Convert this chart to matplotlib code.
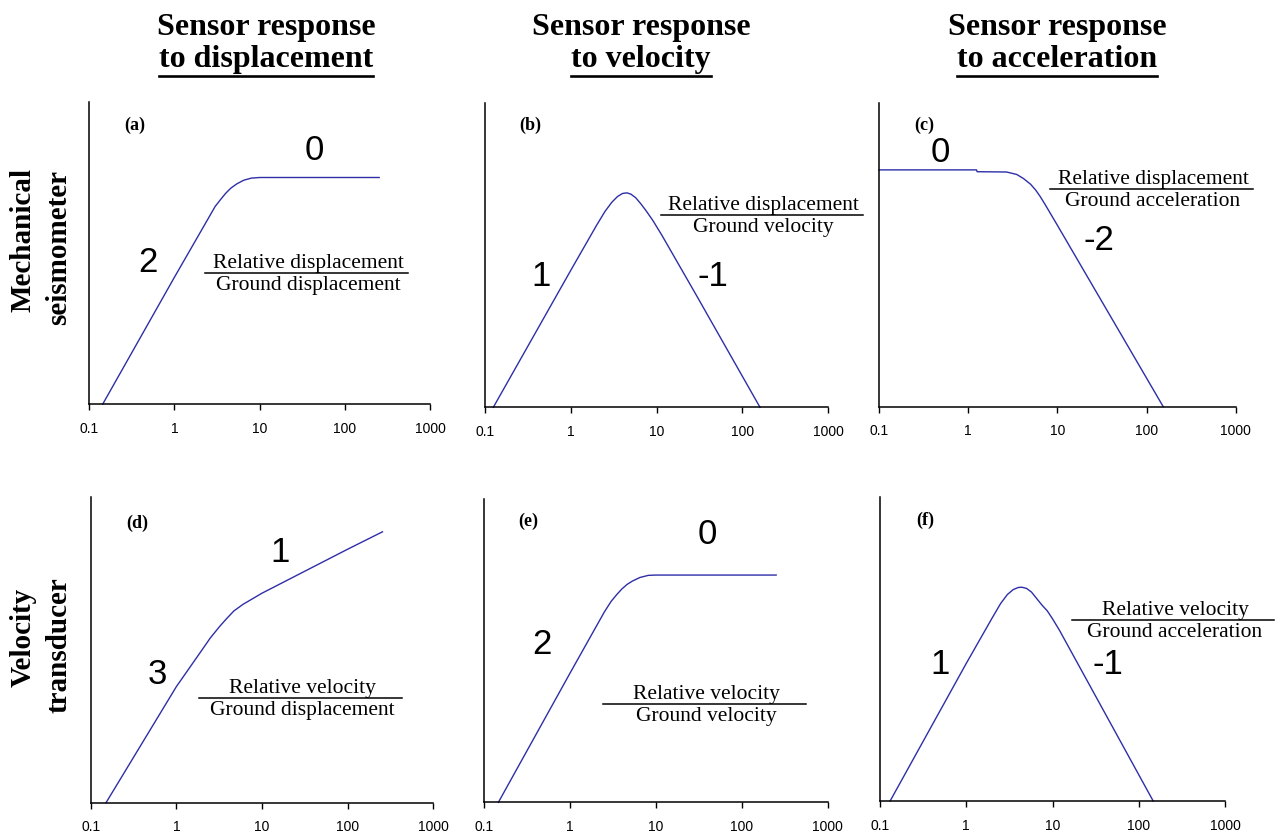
import matplotlib.pyplot as plt
from matplotlib.lines import Line2D

# frequency (Hz) and relative response level (0-100, arbitrary) for each panel
a_freq = [0.144, 1, 2.5, 3.0, 3.5, 4.0, 4.6, 5.4, 6.5, 8, 10, 253]
a_level = [0, 42, 61.5, 65.4, 67.8, 69.8, 71.5, 72.9, 74.1, 74.8, 75, 75]

b_freq = [0.125, 1, 2.0, 2.5, 3.0, 3.5, 4.0, 4.5, 5.0, 5.7, 6.5, 7.5, 9, 11.5, 29, 160]
b_level = [0, 45, 59.8, 64.3, 67.3, 69.2, 70.2, 70.4, 70.0, 68.8, 66.9, 64.6, 61.4, 56.5, 36.8, 0]

c_freq = [0.1, 1.24, 1.26, 2.7, 3.5, 4.15, 5.0, 5.7, 6.4, 7.26, 10, 154]
c_level = [77.9, 77.9, 77.3, 77.2, 76.4, 75.1, 73.2, 71.3, 69.2, 66.6, 59.7, 0]

d_freq = [0.151, 1, 1.88, 2.5, 3.2, 3.87, 4.7, 6.04, 8, 10, 100, 255]
d_level = [0, 38, 49, 54, 57.7, 60.3, 62.8, 65, 67, 68.6, 83, 88.7]

e_freq = [0.146, 1, 2.5, 3.0, 3.5, 4.0, 4.6, 5.3, 6.5, 8.15, 10, 251]
e_level = [0, 42.7, 62.8, 66.3, 68.6, 70.4, 71.9, 73, 74.2, 74.9, 75, 75]

f_freq = [0.131, 1, 2.0, 2.5, 3.0, 3.5, 4.0, 4.4, 5.0, 5.7, 6.5, 7.5, 8.7, 10, 12, 147]
f_level = [0, 45.3, 60.3, 65, 68, 69.6, 70.3, 70.4, 70, 68.8, 66.8, 64.6, 62.6, 60.0, 56.3, 0]

tick_vals = [0.1, 1, 10, 100, 1000]
tick_labels = ['0.1', '1', '10', '100', '1000']

col_titles = ['to displacement', 'to velocity', 'to acceleration']
row_titles = [('Mechanical', 'seismometer'), ('Velocity', 'transducer')]

W, H = 1278, 833
fig = plt.figure(figsize=(W / 100, H / 100), dpi=100)


def fx(x):
    return x / W


def fy(y):
    return 1 - y / H


def make_axes(x0, x1, y0, y1):
    ax = fig.add_axes([fx(x0), fy(y1), fx(x1 - x0), (y1 - y0) / H])
    ax.set_xscale('log')
    ax.set_xlim(0.1, 1000)
    ax.set_ylim(0, 100)
    ax.spines['top'].set_visible(False)
    ax.spines['right'].set_visible(False)
    for s in ('left', 'bottom'):
        ax.spines[s].set_linewidth(1.1)
    ax.set_yticks([])
    ax.set_xticks(tick_vals)
    ax.set_xticklabels(tick_labels, family='Liberation Sans', fontsize=10)
    ax.minorticks_off()
    ax.tick_params(axis='x', direction='out', length=4.3, width=1, pad=8.5)
    ax.patch.set_alpha(0)
    return ax


panels = [
    # axes box (px), curve, letter, slope labels, fraction
    ((89.3, 430, 102, 404), a_freq, a_level, '(a)', (135, 125),
     [('0', 314, 150), ('2', 148, 263)],
     ('Relative displacement', 'Ground displacement', 308, 273, 205, 408)),
    ((485, 828.3, 102.7, 407.3), b_freq, b_level, '(b)', (530, 125),
     [('1', 541, 277), ('-1', 713, 277)],
     ('Relative displacement', 'Ground velocity', 763, 215, 661, 863)),
    ((879, 1235.7, 102.7, 406.7), c_freq, c_level, '(c)', (924, 125),
     [('0', 940, 152), ('-2', 1099, 241)],
     ('Relative displacement', 'Ground acceleration', 1153, 189, 1050, 1253)),
    ((90.7, 433.3, 497.3, 802.7), d_freq, d_level, '(d)', (137, 523),
     [('1', 280, 552), ('3', 157, 674)],
     ('Relative velocity', 'Ground displacement', 302, 698, 199, 402)),
    ((484.3, 827.7, 499.3, 802.3), e_freq, e_level, '(e)', (528, 521),
     [('0', 707, 535), ('2', 542, 645)],
     ('Relative velocity', 'Ground velocity', 706, 704, 603, 806)),
    ((880, 1225, 497.3, 801), f_freq, f_level, '(f)', (925, 520),
     [('1', 940, 664), ('-1', 1108, 664)],
     ('Relative velocity', 'Ground acceleration', 1175, 620, 1072, 1274)),
]

for box, freq, level, letter, lpos, slopes, frac in panels:
    ax = make_axes(*box)
    ax.plot(freq, level, color='#2e2ea8', lw=1.0, clip_on=False)
    fig.text(fx(lpos[0]), fy(lpos[1]), letter, family='Liberation Serif',
             weight='bold', fontsize=13, ha='center', va='center')
    for s, sx, sy in slopes:
        fig.text(fx(sx), fy(sy), s, family='Liberation Sans', fontsize=25,
                 ha='center', va='center')
    num, den, cx, ly, lx0, lx1 = frac
    fig.text(fx(cx), fy(ly - 5), num, family='Liberation Serif', fontsize=15.5,
             ha='center', va='baseline')
    fig.text(fx(cx), fy(ly + 3), den, family='Liberation Serif', fontsize=15.5,
             ha='center', va='top')
    fig.add_artist(Line2D([fx(lx0), fx(lx1)], [fy(ly), fy(ly)],
                          transform=fig.transFigure, color='black', lw=1.1))

# column headers with underlined second line
fig.canvas.draw()
renderer = fig.canvas.get_renderer()
for cx, title in zip([266, 641, 1057], col_titles):
    fig.text(fx(cx), fy(35), 'Sensor response', family='Liberation Serif',
             weight='bold', fontsize=23, ha='center', va='baseline')
    t = fig.text(fx(cx), fy(67), title, family='Liberation Serif',
                 weight='bold', fontsize=23, ha='center', va='baseline')
    bb = t.get_window_extent(renderer)
    fig.add_artist(Line2D([bb.x0 / W, bb.x1 / W], [fy(76), fy(76)],
                          transform=fig.transFigure, color='black', lw=1.9))

# row headers
for (l1, l2), yc in zip(row_titles, [240, 637]):
    fig.text(fx(23), fy(yc), l1, family='Liberation Serif', weight='bold',
             fontsize=21, rotation=90, ha='center', va='center')
    fig.text(fx(59), fy(yc + 8), l2, family='Liberation Serif', weight='bold',
             fontsize=21, rotation=90, ha='center', va='center')

plt.savefig('out.png', dpi=100)
